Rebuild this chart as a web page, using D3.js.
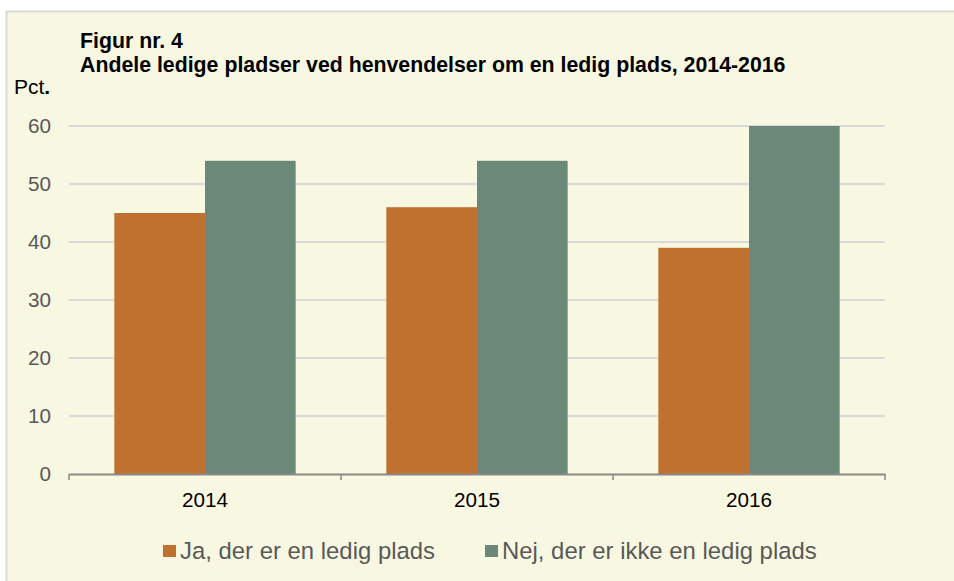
<!DOCTYPE html>
<html>
<head>
<meta charset="utf-8">
<script src="https://cdn.jsdelivr.net/npm/d3@7"></script>
<style>
  body { margin: 0; background: #fff; }
  svg { display: block; font-family: "Liberation Sans", Arial, sans-serif; }
</style>
</head>
<body>
<div id="chart"></div>
<script>
// data
const years = ["2014", "2015", "2016"];
const seriesNames = ["Ja, der er en ledig plads", "Nej, der er ikke en ledig plads"];
const jaValues = [45, 46, 39];
const nejValues = [54, 54, 60];
const yTicks = [0, 10, 20, 30, 40, 50, 60];
const colors = ["#C0702F", "#6B8878"];

const width = 954, height = 581;

const svg = d3.select("#chart").append("svg")
  .attr("width", width)
  .attr("height", height);

// panel background + border (only top and left edges show)
svg.append("rect")
  .attr("x", 6.5).attr("y", 11.5)
  .attr("width", width + 10).attr("height", height + 10)
  .attr("fill", "#F8F8E2")
  .attr("stroke", "#D9D9D9")
  .attr("stroke-width", 2);

const plotLeft = 69, plotRight = 885, plotTop = 126, plotBottom = 474;

let x0 = d3.scaleBand().domain(years).range([plotLeft, plotRight]).padding(0);
let x1 = d3.scaleBand().domain(seriesNames).range([0, x0.bandwidth()])
  .paddingInner(0).paddingOuter(0.5);
let y = d3.scaleLinear().domain([0, 60]).range([plotBottom, plotTop]);

// gridlines
svg.append("g")
  .selectAll("line")
  .data(yTicks.filter(d => d > 0))
  .enter().append("line")
  .attr("x1", plotLeft).attr("x2", plotRight)
  .attr("y1", d => y(d)).attr("y2", d => y(d))
  .attr("stroke", "#D9D9D9")
  .attr("stroke-width", 2);

// bars
let rows = years.map((yr, i) => ({year: yr, vals: [jaValues[i], nejValues[i]]}));
let groups = svg.selectAll(".grp")
  .data(rows)
  .enter().append("g")
  .attr("class", "grp")
  .attr("transform", d => "translate(" + x0(d.year) + ",0)");

groups.selectAll("rect")
  .data(d => d.vals.map((v, j) => ({name: seriesNames[j], v: v, j: j})))
  .enter().append("rect")
  .attr("x", d => x1(d.name))
  .attr("width", x1.bandwidth())
  .attr("y", d => y(d.v))
  .attr("height", d => plotBottom - y(d.v))
  .attr("fill", d => colors[d.j]);

// y axis labels
let yAxis = d3.axisLeft(y).tickValues(yTicks).tickSize(0).tickPadding(18);
let yg = svg.append("g")
  .attr("transform", "translate(" + plotLeft + ",0)")
  .call(yAxis);
yg.select(".domain").remove();
yg.selectAll("text")
  .attr("font-size", 20.7)
  .attr("font-family", "Liberation Sans, Arial, sans-serif")
  .attr("fill", "#595959");

// x axis
let xAxis = d3.axisBottom(x0).tickSize(0).tickPadding(18);
let xg = svg.append("g")
  .attr("transform", "translate(0," + plotBottom + ")")
  .call(xAxis);
xg.select(".domain").attr("stroke", "#898989").attr("stroke-width", 2);
xg.selectAll("text")
  .attr("font-size", 20.7)
  .attr("font-family", "Liberation Sans, Arial, sans-serif")
  .attr("fill", "#000");
// tick marks at band edges
xg.selectAll(".edge")
  .data(years.map(d => x0(d)).concat([plotRight]))
  .enter().append("line")
  .attr("class", "edge")
  .attr("x1", d => d).attr("x2", d => d)
  .attr("y1", 0).attr("y2", 6)
  .attr("stroke", "#898989")
  .attr("stroke-width", 1.5);

// titles
svg.append("text")
  .attr("x", 80).attr("y", 48)
  .attr("font-size", 21.3).attr("font-weight", "bold")
  .text("Figur nr. 4");
svg.append("text")
  .attr("x", 80).attr("y", 72)
  .attr("font-size", 21.3).attr("font-weight", "bold")
  .text("Andele ledige pladser ved henvendelser om en ledig plads, 2014-2016");
let pct = svg.append("text")
  .attr("x", 14).attr("y", 94)
  .attr("font-size", 21);
pct.append("tspan").text("Pct");
pct.append("tspan").attr("font-weight", "bold").text(".");

// legend
let legendX = [163, 485];
let legend = svg.selectAll(".leg")
  .data(seriesNames)
  .enter().append("g")
  .attr("class", "leg")
  .attr("transform", (d, i) => "translate(" + legendX[i] + ",545)");
legend.append("rect")
  .attr("width", 13).attr("height", 12)
  .attr("fill", (d, i) => colors[i]);
legend.append("text")
  .attr("x", 17).attr("y", 14)
  .attr("font-size", 23.9)
  .attr("fill", "#595959")
  .text(d => d);
</script>
</body>
</html>
